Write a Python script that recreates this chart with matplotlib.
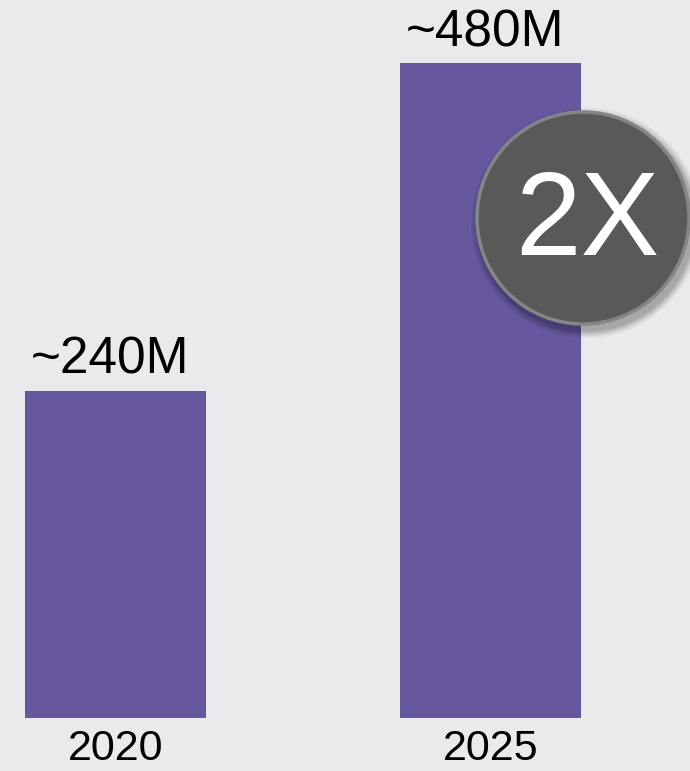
import matplotlib
matplotlib.use("Agg")
import matplotlib.pyplot as plt
from matplotlib.patches import Ellipse

years = ["2020", "2025"]
users = [240, 480]
value_labels = ["~240M", "~480M"]
badge_text = "2X"

plt.rcParams['font.family'] = ['Liberation Sans', 'DejaVu Sans']

W, H = 690, 771
bg = "#e9eaec"
bar_color = "#67579e"

fig = plt.figure(figsize=(W / 100, H / 100), dpi=100, facecolor=bg)
# axes: y=0 at 718px from top, y=480 at 63px from top
ax = fig.add_axes([0, (H - 718) / H, 1, (718 - 63) / H])
ax.set_facecolor(bg)
x = range(len(years))
ax.bar(x, users, width=0.483, color=bar_color)
ax.set_xlim(-0.308, 1.532)
ax.set_ylim(0, 480)
ax.axis("off")

for i, (v, lab, yr) in enumerate(zip(users, value_labels, years)):
    ax.annotate(lab, (i, v), xytext=(-4, 12), textcoords="offset points",
                ha="center", va="baseline", fontsize=37, color="black",
                annotation_clip=False)
    ax.annotate(yr, (i, 0), xytext=(0, -30), textcoords="offset points",
                ha="center", va="baseline", fontsize=31, color="black",
                annotation_clip=False)

# badge circle in figure coords
cx, cy, r = 583 / W, 1 - 218 / H, 106
for k, a in [(9, 0.05), (7, 0.07), (5, 0.09), (3, 0.1)]:
    fig.add_artist(Ellipse((cx + 3 / W, cy - 5 / H), 2 * (r + k) / W, 2 * (r + k) / H,
                           transform=fig.transFigure, facecolor="black", alpha=a,
                           edgecolor="none"))
fig.add_artist(Ellipse((cx, cy), 2 * r / W, 2 * r / H, transform=fig.transFigure,
                       facecolor="#595959", edgecolor="#858585", linewidth=2.5))
fig.text(cx + 4 / W, 1 - 224 / H, badge_text, ha="center", va="center",
         fontsize=85, color="white")

fig.savefig("out.png", dpi=100, facecolor=bg)
